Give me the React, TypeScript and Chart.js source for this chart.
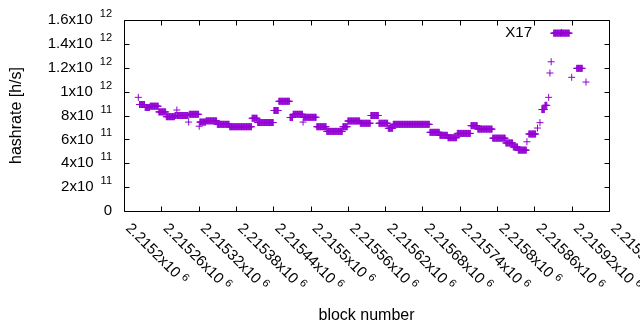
import React, { useEffect, useRef } from "react";
import { Chart, registerables } from "chart.js";

Chart.register(...registerables);

// ---- data ----
const blockBase = 2215200;
// runs of blocks (offsets from blockBase, inclusive) sharing one hashrate estimate
const runStart = [23, 25, 34, 42, 56, 68, 82, 85, 86, 104, 105, 121, 122, 132, 150, 170, 206, 215, 241, 249, 267, 272, 288, 289, 310, 326, 352, 360, 380, 397, 410, 425, 433, 492, 508, 521, 536, 558, 569, 593, 614, 626, 634, 648, 651, 665, 669, 672, 677, 683, 685, 687, 691, 720, 728, 743];
const runEnd = [23, 33, 41, 55, 67, 81, 84, 85, 103, 104, 120, 121, 131, 149, 169, 205, 214, 240, 248, 266, 271, 287, 288, 309, 325, 351, 359, 379, 396, 409, 424, 432, 491, 507, 520, 535, 557, 568, 592, 613, 625, 633, 647, 648, 662, 665, 669, 676, 680, 683, 685, 687, 716, 720, 737, 743];
const runHashrate = [9.52e11, 8.92e11, 8.67e11, 8.78e11, 8.3e11, 7.9e11, 8.0e11, 8.46e11, 8.0e11, 7.45e11, 8.1e11, 7.1e11, 7.45e11, 7.55e11, 7.26e11, 7.06e11, 7.77e11, 7.41e11, 8.42e11, 9.19e11, 7.83e11, 8.1e11, 7.45e11, 7.85e11, 7.06e11, 6.67e11, 7.06e11, 7.54e11, 7.35e11, 8.0e11, 7.35e11, 6.93e11, 7.26e11, 6.59e11, 6.34e11, 6.14e11, 6.5e11, 7.15e11, 6.86e11, 6.1e11, 5.7e11, 5.36e11, 5.1e11, 5.8e11, 6.45e11, 6.95e11, 7.4e11, 8.5e11, 8.85e11, 9.52e11, 1.156e12, 1.25e12, 1.49e12, 1.12e12, 1.195e12, 1.08e12];
const xTickValues = [2215200, 2215260, 2215320, 2215380, 2215440, 2215500, 2215560, 2215620, 2215680, 2215740, 2215800, 2215860, 2215920, 2215980];
const yTickValues = [0, 2e11, 4e11, 6e11, 8e11, 1e12, 1.2e12, 1.4e12, 1.6e12];
const seriesLabel = "X17";
const xTitle = "block number";
const yTitle = "hashrate [h/s]";

const COLOR = "#9400D3";
const FONT = '"Liberation Sans", Arial, sans-serif';

function buildPoints() {
  const pts: { x: number; y: number }[] = [];
  for (let i = 0; i < runStart.length; i++) {
    for (let b = runStart[i]; b <= runEnd[i]; b++) {
      pts.push({ x: blockBase + b, y: runHashrate[i] });
    }
  }
  return pts;
}

function splitSci(v: number) {
  const exp = Math.floor(Math.log10(v) + 1e-9);
  const mant = parseFloat((v / Math.pow(10, exp)).toFixed(6));
  return { mant: String(mant), exp: String(exp) };
}

const framePlugin = {
  id: "gnuplotFrame",
  beforeDatasetsDraw(chart: any) {
    const { ctx, chartArea } = chart;
    const xs = chart.scales.x;
    const ys = chart.scales.y;
    const L = Math.round(chartArea.left) + 0.5;
    const R = Math.round(chartArea.right) + 0.5;
    const T = Math.round(chartArea.top) + 0.5;
    const B = Math.round(chartArea.bottom) + 0.5;
    ctx.save();
    ctx.strokeStyle = "#000";
    ctx.lineWidth = 1;
    ctx.beginPath();
    ctx.rect(L, T, R - L, B - T);
    const tl = 5;
    for (const v of xTickValues) {
      const x = Math.round(xs.getPixelForValue(v)) + 0.5;
      ctx.moveTo(x, B);
      ctx.lineTo(x, B - tl);
      ctx.moveTo(x, T);
      ctx.lineTo(x, T + tl);
    }
    for (const v of yTickValues) {
      const y = Math.round(ys.getPixelForValue(v)) + 0.5;
      ctx.moveTo(L, y);
      ctx.lineTo(L + tl, y);
      ctx.moveTo(R, y);
      ctx.lineTo(R - tl, y);
    }
    ctx.stroke();
    ctx.restore();
  },
  afterDraw(chart: any) {
    const { ctx, chartArea } = chart;
    const xs = chart.scales.x;
    const ys = chart.scales.y;
    const big = `15px ${FONT}`;
    const small = `11px ${FONT}`;
    const title = `16px ${FONT}`;
    ctx.save();
    ctx.fillStyle = "#000";
    // y tick labels
    for (const v of yTickValues) {
      const y = ys.getPixelForValue(v);
      const xr = chartArea.left - 12;
      ctx.textAlign = "right";
      ctx.textBaseline = "middle";
      if (v === 0) {
        ctx.font = big;
        ctx.fillText("0", xr, y);
      } else {
        const { mant, exp } = splitSci(v);
        ctx.font = small;
        const ew = ctx.measureText(exp).width;
        ctx.fillText(exp, xr, y - 6);
        ctx.font = big;
        ctx.fillText(`${mant}x10`, xr - ew - 7, y);
      }
    }
    // x tick labels, rotated
    for (const v of xTickValues) {
      const x = xs.getPixelForValue(v);
      const { mant, exp } = splitSci(v);
      ctx.save();
      ctx.translate(x + 4, chartArea.bottom + 15);
      ctx.rotate(Math.PI / 4);
      ctx.textAlign = "left";
      ctx.textBaseline = "middle";
      ctx.font = big;
      const t = `${mant}x10`;
      const w = ctx.measureText(t).width;
      ctx.fillText(t, 0, 0);
      ctx.font = small;
      ctx.fillText(exp, w + 4, -4);
      ctx.restore();
    }
    // axis titles
    ctx.font = title;
    ctx.textAlign = "center";
    ctx.textBaseline = "middle";
    ctx.fillText(xTitle, (chartArea.left + chartArea.right) / 2, 316);
    ctx.save();
    ctx.translate(17, (chartArea.top + chartArea.bottom) / 2);
    ctx.rotate(-Math.PI / 2);
    ctx.fillText(yTitle, 0, 0);
    ctx.restore();
    // key
    ctx.font = big;
    const ky = chartArea.top + 12.5;
    ctx.textAlign = "right";
    ctx.fillText(seriesLabel, chartArea.right - 77, ky);
    const kx = chartArea.right - 48;
    ctx.strokeStyle = COLOR;
    ctx.lineWidth = 1;
    ctx.beginPath();
    ctx.moveTo(kx - 3.5, Math.round(ky) + 0.5);
    ctx.lineTo(kx + 3.5, Math.round(ky) + 0.5);
    ctx.moveTo(Math.round(kx) + 0.5, ky - 3.5);
    ctx.lineTo(Math.round(kx) + 0.5, ky + 3.5);
    ctx.stroke();
    ctx.restore();
  },
};

export default function App() {
  const ref = useRef<HTMLCanvasElement | null>(null);
  useEffect(() => {
    if (!ref.current) return;
    const chart = new Chart(ref.current, {
      type: "scatter",
      data: {
        datasets: [
          {
            label: seriesLabel,
            data: buildPoints(),
            pointStyle: "cross",
            pointRadius: 3.5,
            pointHoverRadius: 3.5,
            pointBorderWidth: 1,
            borderColor: COLOR,
            backgroundColor: COLOR,
            showLine: false,
          } as any,
        ],
      },
      options: {
        responsive: false,
        animation: false,
        devicePixelRatio: 1,
        events: [],
        layout: { padding: { left: 124, right: 31, top: 20, bottom: 119 } },
        scales: {
          x: { type: "linear", min: 2215200, max: 2215980, display: false },
          y: { type: "linear", min: 0, max: 1.6e12, display: false },
        },
        plugins: { legend: { display: false }, tooltip: { enabled: false } },
      },
      plugins: [framePlugin],
    });
    return () => chart.destroy();
  }, []);
  return (
    <div style={{ position: "fixed", left: 0, top: 0, width: 640, height: 330, background: "#fff" }}>
      <canvas ref={ref} width={640} height={330} style={{ display: "block" }} />
    </div>
  );
}
